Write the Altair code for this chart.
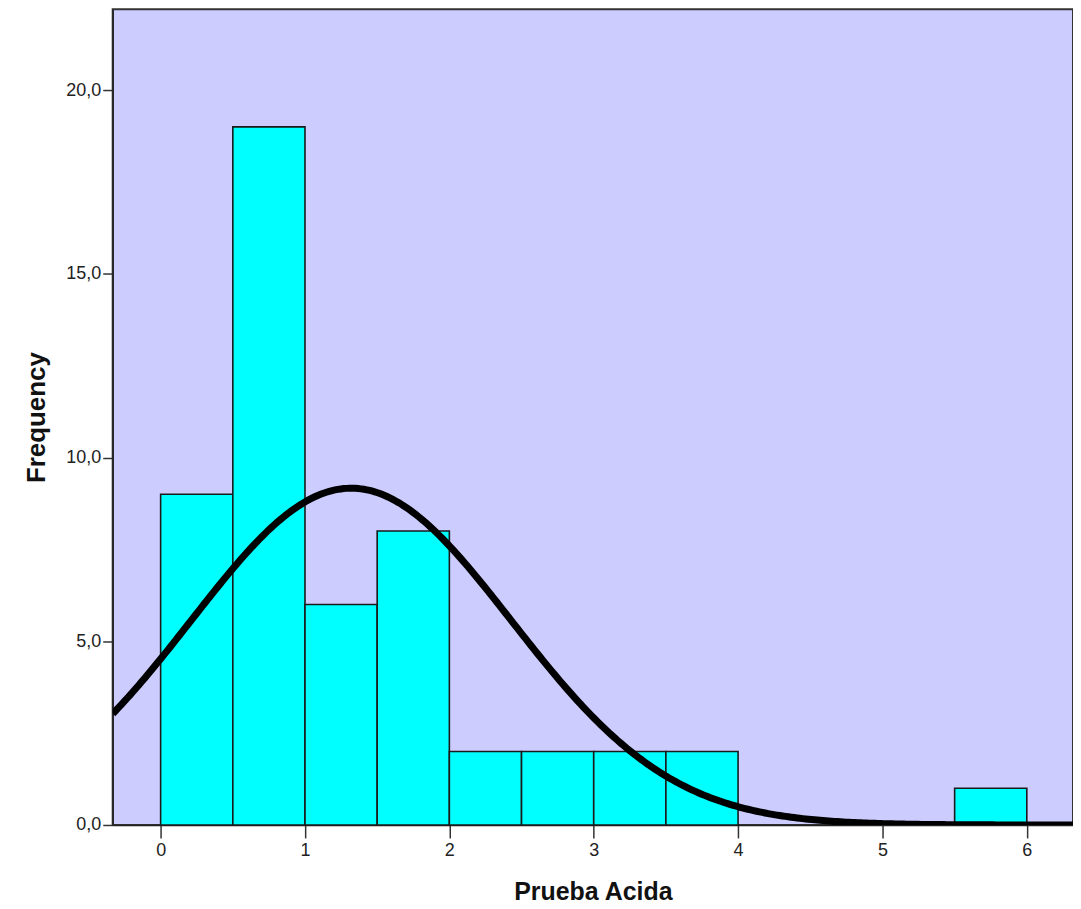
import altair as alt
import pandas as pd

bin_start = [0.0, 0.5, 1.0, 1.5, 2.0, 2.5, 3.0, 3.5, 5.5]
bin_end = [0.5, 1.0, 1.5, 2.0, 2.5, 3.0, 3.5, 4.0, 6.0]
counts = [9, 19, 6, 8, 2, 2, 2, 2, 1]

# normal curve parameters
mean = 1.32
sd = 1.11
n_obs = 51
bin_width = 0.5

x_ticks = [0, 1, 2, 3, 4, 5, 6]
y_ticks = [0, 5, 10, 15, 20]
x_domain = [-0.332, 6.32]
y_domain = [0, 22.2]

bars_df = pd.DataFrame({"x": bin_start, "x2": bin_end, "count": counts})

xscale = alt.Scale(domain=x_domain, nice=False, zero=False)
yscale = alt.Scale(domain=y_domain, nice=False)

FONT = "Liberation Sans"

bars = alt.Chart(bars_df).mark_rect(
    color="#00ffff", stroke="#1a1a1a", strokeWidth=1.6
).encode(
    x=alt.X("x:Q", scale=xscale,
            axis=alt.Axis(values=x_ticks, title="Prueba Acida", format="d",
                          grid=False, tickSize=13, tickWidth=1.5, tickColor="#333333",
                          domainColor="#222222", domainWidth=1.5, labelFontSize=18,
                          labelColor="#222222", labelPadding=4,
                          titleFontSize=25, titleFontWeight="bold",
                          titleColor="#111111", titlePadding=20,
                          labelFont=FONT, titleFont=FONT)),
    x2="x2:Q",
    y=alt.Y("count:Q", scale=yscale,
            axis=alt.Axis(values=y_ticks, title="Frequency",
                          labelExpr="replace(format(datum.value, '.1f'), '.', ',')",
                          grid=False, tickSize=10, tickWidth=1.5, tickColor="#333333",
                          domainColor="#222222", domainWidth=1.5, labelFontSize=18,
                          labelColor="#222222", labelPadding=2,
                          titleFontSize=26, titleFontWeight="bold",
                          titleColor="#111111", titlePadding=16,
                          labelFont=FONT, titleFont=FONT)),
    y2=alt.datum(0),
)

curve = alt.Chart(alt.sequence(x_domain[0], x_domain[1] + 0.01, 0.02, as_="x")).transform_calculate(
    y=f"{n_obs * bin_width} / ({sd} * sqrt(2 * PI)) * exp(-pow(datum.x - {mean}, 2) / (2 * {sd} * {sd}))"
).mark_line(color="#000000", strokeWidth=7, clip=True).encode(
    x=alt.X("x:Q", scale=xscale),
    y=alt.Y("y:Q", scale=yscale),
)

chart = alt.layer(bars, curve).properties(
    width=963, height=818,
    autosize=alt.AutoSizeParams(type="none"),
    padding={"left": 105, "top": 0, "right": 0, "bottom": 84},
).configure(
    background="white",
    view=alt.ViewConfig(fill="#ccccff", stroke="#333333", strokeWidth=2),
)

chart.save("out.html", embed_options={"renderer": "svg", "actions": False})
